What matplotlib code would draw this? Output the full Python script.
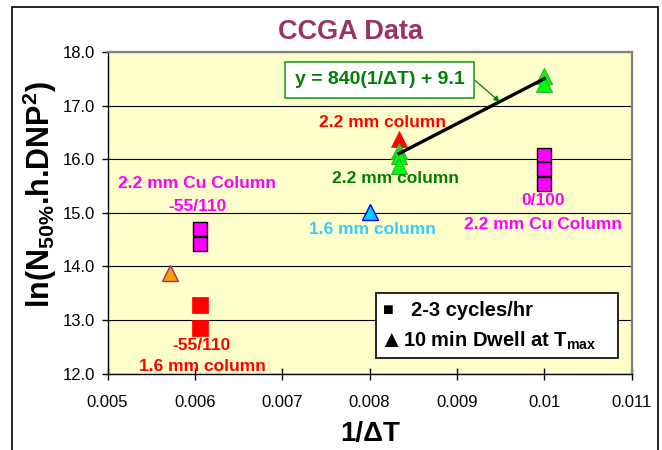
import matplotlib
matplotlib.use("Agg")
import matplotlib.pyplot as plt
from matplotlib.patches import Rectangle

plt.rcParams['font.family'] = ['Liberation Sans', 'DejaVu Sans']
plt.rcParams['mathtext.fontset'] = 'custom'
plt.rcParams['mathtext.rm'] = 'Liberation Sans:bold'
plt.rcParams['mathtext.bf'] = 'Liberation Sans:bold'
plt.rcParams['mathtext.it'] = 'Liberation Sans:bold'
plt.rcParams['mathtext.default'] = 'bf'

# 2-3 cycles/hr (squares)
sq_mag_x = [0.00606, 0.00606, 0.0100, 0.0100, 0.0100]
sq_mag_y = [14.69, 14.41, 16.08, 15.81, 15.54]
sq_red_x = [0.00606, 0.00606]
sq_red_y = [13.28, 12.85]

# 10 min dwell at Tmax (triangles)
tri_orange_x = [0.00571]
tri_orange_y = [13.87]
tri_cyan_x = [0.0080]
tri_cyan_y = [15.01]
tri_red_x = [0.00834]
tri_red_y = [16.37]
tri_green_x = [0.00834, 0.00834, 0.00834, 0.0100, 0.0100]
tri_green_y = [16.15, 16.05, 15.88, 17.56, 17.41]

# linear fit through the 2.2 mm column points
fit_slope = 840
fit_intercept = 9.1
fit_x = [0.00834, 0.0100]

x_ticks = [0.005, 0.006, 0.007, 0.008, 0.009, 0.010, 0.011]
x_tick_labels = ['0.005', '0.006', '0.007', '0.008', '0.009', '0.01', '0.011']
y_ticks = [12, 13, 14, 15, 16, 17, 18]

fig = plt.figure(figsize=(6.62, 4.5), dpi=100)
ax = fig.add_axes([107.5 / 662, 76.5 / 450, 524 / 662, 321.5 / 450])
ax.set_facecolor('#FFFFCC')

ax.set_xlim(0.005, 0.011)
ax.set_ylim(12, 18)
ax.set_xticks(x_ticks)
ax.set_xticklabels(x_tick_labels)
ax.set_yticks(y_ticks)
ax.set_yticklabels(['%.1f' % v for v in y_ticks])
ax.tick_params(axis='x', direction='inout', length=9, width=1, pad=11, labelsize=12)
ax.tick_params(axis='y', direction='out', length=4.5, width=1, pad=4.5, labelsize=12)

ax.yaxis.grid(True, color='black', lw=0.8)
ax.set_axisbelow(True)
for side in ['top', 'right']:
    ax.spines[side].set_color('#808080')
    ax.spines[side].set_linewidth(1.6)
for side in ['left', 'bottom']:
    ax.spines[side].set_color('black')
    ax.spines[side].set_linewidth(1)

# data points
ax.plot(tri_orange_x, tri_orange_y, '^', ms=12, mfc='#FF9900', mec='#993366', mew=1, ls='none', zorder=3)
ax.plot(tri_cyan_x, tri_cyan_y, '^', ms=12, mfc='#00CCFF', mec='#0000FF', mew=1, ls='none', zorder=3)
ax.plot(tri_red_x, tri_red_y, '^', ms=12, mfc='#FF0000', mec='#FF0000', mew=0.5, ls='none', zorder=3)
ax.plot(tri_green_x, tri_green_y, '^', ms=12, mfc='#00FF00', mec='#33AA33', mew=0.8, ls='none', zorder=3)
ax.plot(sq_red_x, sq_red_y, 's', ms=11, mfc='#FF0000', mec='#FF0000', mew=0.5, ls='none', zorder=3)
ax.plot(sq_mag_x, sq_mag_y, 's', ms=10.5, mfc='#FF00FF', mec='black', mew=1, ls='none', zorder=3)

fit_y = [fit_slope * x + fit_intercept for x in fit_x]
ax.plot(fit_x, fit_y, color='black', lw=2.4, zorder=4)

# equation box with pointer onto the fit line
arrow_x = 0.00949
ax.annotate('y = 840(1/\u0394T) + 9.1', xy=(arrow_x, fit_slope * arrow_x + fit_intercept),
            xytext=(0.008118, 17.48), textcoords='data', ha='center', va='center',
            fontsize=14, fontweight='bold', color='#008000',
            bbox=dict(boxstyle='square,pad=0.5', fc='white', ec='#22A022', lw=1.2),
            arrowprops=dict(arrowstyle='-|>', color='#008000', lw=0.9, mutation_scale=8,
                            relpos=(1, 1), shrinkA=0, shrinkB=0),
            zorder=5)

# point labels
lbl = dict(ha='center', va='center', fontsize=12.5, fontweight='bold', zorder=5)
ax.text(0.006025, 15.54, '2.2 mm Cu Column', color='#FF00FF', **lbl)
ax.text(0.006031, 15.11, '-55/110', color='#FF00FF', **lbl)
ax.text(0.006079, 12.53, '-55/110', color='#FF0000', **lbl)
ax.text(0.006082, 12.13, '1.6 mm column', color='#FF0000', **lbl)
ax.text(0.008149, 16.69, '2.2 mm column', color='#FF0000', **lbl)
ax.text(0.008297, 15.63, '2.2 mm column', color='#008000', **lbl)
ax.text(0.008034, 14.68, '1.6 mm column', color='#33CCFF', **lbl)
ax.text(0.009990, 15.22, '0/100', color='#FF00FF', **lbl)
ax.text(0.009987, 14.78, '2.2 mm Cu Column', color='#FF00FF', **lbl)

# key box
ax.add_patch(Rectangle((0.5124, 0.048), 0.4618, 0.2024, transform=ax.transAxes,
                       fc='white', ec='black', lw=1.2, zorder=6))
ax.text(0.5353, 0.181, '\u25A0', transform=ax.transAxes, fontsize=13, ha='center',
        va='baseline', zorder=7)
ax.text(0.5792, 0.179, '2-3 cycles/hr', transform=ax.transAxes, fontsize=14.5,
        fontweight='bold', ha='left', va='baseline', zorder=7)
ax.text(0.541, 0.0834, '\u25B2', transform=ax.transAxes, fontsize=17, ha='center',
        va='baseline', zorder=7)
ax.text(0.564, 0.0834, '10 min Dwell at T$_{max}$', transform=ax.transAxes, fontsize=14.5,
        fontweight='bold', ha='left', va='baseline', zorder=7)

fig.text(350 / 662, 1 - 32 / 450, 'CCGA Data', ha='center', va='center',
         fontsize=19.5, fontweight='bold', color='#993366')
fig.text(370 / 662, 1 - 434 / 450, '1/\u0394T', ha='center', va='center',
         fontsize=20, fontweight='bold')
fig.text(40 / 662, 1 - 195 / 450, 'ln(N$_{50\\%}$.h.DNP$^{2}$)', ha='center', va='center',
         rotation=90, fontsize=22, fontweight='bold')

# chart frame (open at the bottom)
fig.add_artist(Rectangle((11.5 / 662, -0.1), 646.5 / 662, 1.1 - 7.5 / 450,
                         transform=fig.transFigure, fill=False, ec='black', lw=1.2))

fig.savefig('out.png', dpi=100)
